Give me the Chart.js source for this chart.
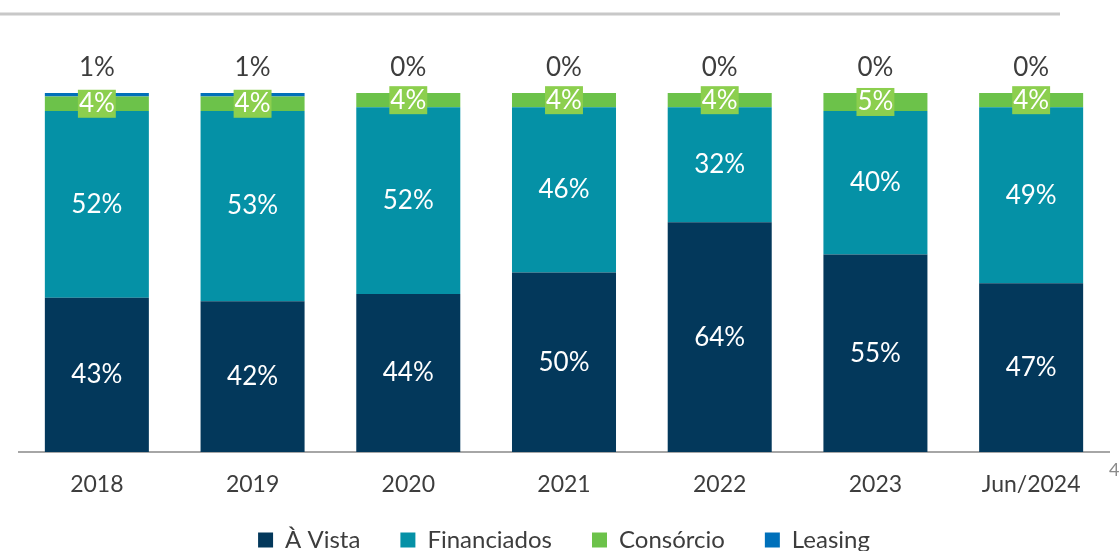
<!DOCTYPE html>
<html>
<head>
<meta charset="utf-8">
<script src="https://cdn.jsdelivr.net/npm/chart.js@4.4.1/dist/chart.umd.min.js"></script>
<style>
html, body { margin: 0; padding: 0; background: #fff; overflow: hidden; }
#wrap { width: 1119px; height: 562px; position: relative; }
</style>
</head>
<body>
<div id="wrap"><canvas id="mixChart"></canvas></div>
<script>
let years = ['2018', '2019', '2020', '2021', '2022', '2023', 'Jun/2024'];
let aVista = [43, 42, 44, 50, 64, 55, 47];
let financiados = [52, 53, 52, 46, 32, 40, 49];
let consorcio = [4, 4, 4, 4, 4, 5, 4];
let leasing = [1, 1, 0, 0, 0, 0, 0];

let fontName = 'Lato';
let textColor = '#3d3d3d';

// percent labels: inside segments, leasing above the bar
let barLabels = {
	id: 'barLabels',
	afterDatasetsDraw(chart) {
		let ctx = chart.ctx;
		ctx.save();
		ctx.font = '26px ' + fontName;
		ctx.textAlign = 'center';
		ctx.textBaseline = 'middle';
		chart.data.datasets.forEach((ds, i) => {
			let meta = chart.getDatasetMeta(i);
			meta.data.forEach((bar, j) => {
				let txt = ds.data[j] + '%';
				if (i === 3) {
					ctx.fillStyle = textColor;
					ctx.fillText(txt, bar.x, bar.y - 25);
					return;
				}
				let cy = (bar.y + bar.base) / 2;
				if (i === 2) {
					let w = ctx.measureText(txt).width + 2;
					ctx.fillStyle = '#8ccf4e';
					ctx.fillRect(bar.x - w / 2, cy - 14, w, 28);
				}
				ctx.fillStyle = '#ffffff';
				ctx.fillText(txt, bar.x, cy);
			});
		});
		ctx.restore();
	}
};

// grey rule at the top of the slide
let decor = {
	id: 'decor',
	beforeDraw(chart) {
		let ctx = chart.ctx;
		ctx.save();
		ctx.strokeStyle = '#c8c8c8';
		ctx.lineWidth = 3;
		ctx.beginPath();
		ctx.moveTo(0, 14);
		ctx.lineTo(1060, 14);
		ctx.stroke();
		ctx.fillStyle = '#8a8a8a';
		ctx.font = '18px ' + fontName;
		ctx.textBaseline = 'middle';
		ctx.fillText('4', 1109, 470);
		ctx.restore();
	}
};

let mixctx = document.getElementById('mixChart').getContext('2d');

let mixChart = new Chart(mixctx, {
	type: 'bar',
	data: {
		labels: years,
		datasets: [{
			label: 'À Vista',
			data: aVista,
			backgroundColor: '#03385b'
		}, {
			label: 'Financiados',
			data: financiados,
			backgroundColor: '#0591a6'
		}, {
			label: 'Consórcio',
			data: consorcio,
			backgroundColor: '#6cc24a'
		}, {
			label: 'Leasing',
			data: leasing,
			backgroundColor: '#0070ba'
		}]
	},
	options: {
		responsive: true,
		maintainAspectRatio: false,
		animation: false,
		datasets: {
			bar: {
				categoryPercentage: 1,
				barPercentage: 0.668,
				borderWidth: 0
			}
		},
		layout: {
			padding: { left: 19, right: 10, top: 93, bottom: 0 }
		},
		scales: {
			x: {
				stacked: true,
				grid: { display: false, drawTicks: false },
				border: { display: true, color: '#a6a6a6', width: 2 },
				ticks: {
					color: textColor,
					padding: 19,
					font: { family: fontName, size: 23 }
				},
				afterFit: (scale) => {
					scale.height = 36;
					// let the year labels spill below the shortened axis box
					scale._computeLabelArea = () => undefined;
				}
			},
			y: {
				stacked: true,
				display: false,
				min: 0,
				max: 100
			}
		},
		plugins: {
			legend: {
				position: 'bottom',
				labels: {
					boxWidth: 15,
					boxHeight: 15,
					padding: 40,
					color: textColor,
					font: { family: fontName, size: 24 }
				}
			},
			tooltip: { enabled: false }
		}
	},
	plugins: [barLabels, decor]
});
</script>
</body>
</html>
